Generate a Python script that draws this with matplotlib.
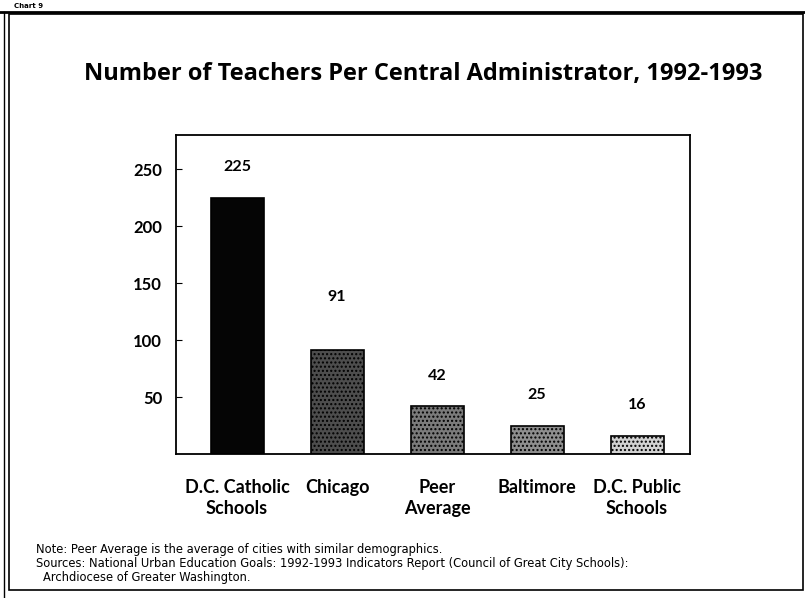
import matplotlib
matplotlib.use("Agg")
import matplotlib.pyplot as plt
from matplotlib.patches import Rectangle
from matplotlib.lines import Line2D

# data
categories = ["D.C. Catholic\nSchools", "Chicago", "Peer\nAverage", "Baltimore", "D.C. Public\nSchools"]
teachers = [225, 91, 42, 25, 16]
bar_colors = ["#050505", "#4d4d4d", "#7b7b7b", "#8e8e8e", "#d2d2d2"]
yticks = [50, 100, 150, 200, 250]

title = "Number of Teachers Per Central Administrator, 1992-1993"
note_lines = ["Note: Peer Average is the average of cities with similar demographics.",
              "Sources: National Urban Education Goals: 1992-1993 Indicators Report (Council of Great City Schools):",
              "Archdiocese of Greater Washington."]

fig = plt.figure(figsize=(8.05, 5.98), dpi=100)
ax = fig.add_axes([176 / 805, 1 - 454 / 598, (690 - 176) / 805, (454 - 135) / 598])

xs = list(range(len(categories)))
bars = ax.bar(xs, teachers, width=0.53, color=bar_colors, edgecolor="black", linewidth=1.2)
for b in bars[1:]:
    b.set_hatch("....")  # rough stand-in for the stippled fill

# value labels; the Chicago one sits higher in the original
label_lift = [17, 33, 17, 17, 17]
for x, v, lift in zip(xs, teachers, label_lift):
    ax.annotate(str(v), (x, v), xytext=(0, lift), textcoords="offset points",
                ha="center", va="bottom", fontsize=11.5, fontweight="bold", family="Lato")

ax.set_xlim(-0.61, 4.53)
ax.set_ylim(0, 280)
ax.set_yticks(yticks)
ax.set_yticklabels([str(t) for t in yticks], fontsize=12, fontweight="bold", family="Lato")
ax.tick_params(axis="y", direction="in", length=4, pad=10)
ax.set_xticks(xs)
ax.set_xticklabels(categories, fontsize=13, fontweight="bold", family="Lato", linespacing=1.3)
ax.tick_params(axis="x", length=0, pad=18)
for s in ax.spines.values():
    s.set_linewidth(1.3)

fig.text(423 / 805, 1 - 74 / 598, title, ha="center", va="center",
         fontsize=17, fontweight="bold", family="Open Sans")
for (x, y), line in zip([(36, 549), (36, 563), (43, 577)], note_lines):
    fig.text(x / 805, 1 - y / 598, line, ha="left", va="center", fontsize=8.3)

# page frame and header strip
fig.patches.append(Rectangle((9 / 805, 8 / 598), 794 / 805, 576 / 598, transform=fig.transFigure,
                             fill=False, edgecolor="black", linewidth=1.2))
fig.lines.append(Line2D([0, 1], [1 - 12 / 598, 1 - 12 / 598], transform=fig.transFigure,
                        color="black", linewidth=2))
fig.lines.append(Line2D([4 / 805, 4 / 805], [0, 1 - 12 / 598], transform=fig.transFigure,
                        color="black", linewidth=1))
fig.text(14 / 805, 1 - 6 / 598, "Chart 9", fontsize=5, fontweight="bold", va="center")

fig.savefig("out.png", dpi=100)
